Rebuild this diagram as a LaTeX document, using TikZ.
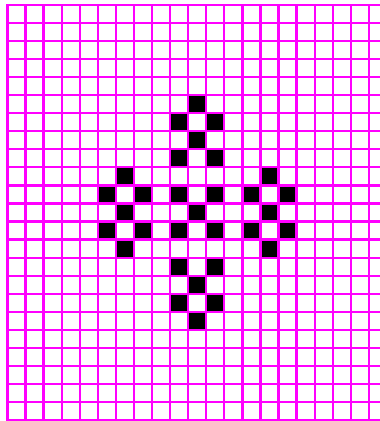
\documentclass[tikz,border=0pt]{standalone}
\usepackage{tikz}
\definecolor{Grid}{HTML}{FF00FF}
\tikzset{gridline/.style={Grid,line width=1.8pt,line cap=rect}}

\begin{document}
\begin{tikzpicture}[x=0.5cm,y=-0.5cm]
  \useasboundingbox (-0.415,-0.26) rectangle (20.615,23.04);
  \clip (-0.415,-0.26) rectangle (20.615,23.04);
  % filled cells (column/row, counted from the top left)
  \foreach \c/\r in {10/5,9/6,11/6,10/7,9/8,11/8,6/9,14/9,
                     5/10,7/10,9/10,11/10,13/10,15/10,6/11,10/11,14/11,
                     5/12,7/12,9/12,11/12,13/12,15/12,6/13,14/13,
                     9/14,11/14,10/15,9/16,11/16,10/17}
    \fill[black] (\c,\r) rectangle ++(1,1);
  % grid
  \foreach \i in {0,...,20} \draw[gridline] (\i,0) -- (\i,23);
  \foreach \j in {0,...,23} \draw[gridline] (0,\j) -- (21,\j);
\end{tikzpicture}
\end{document}
